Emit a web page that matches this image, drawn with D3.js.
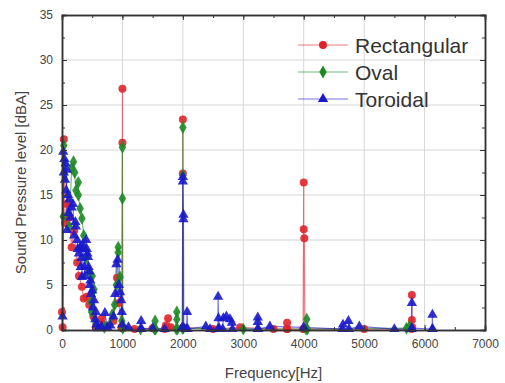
<!DOCTYPE html>
<html>
<head>
<meta charset="utf-8">
<script src="https://cdn.jsdelivr.net/npm/d3@7"></script>
<style>
  body { margin: 0; background: #fff; }
  svg { display: block; font-family: Arial, "Liberation Sans", sans-serif; }
</style>
</head>
<body>
<div id="chart"></div>
<script>
// series data: [frequency Hz, sound pressure dBA], in drawing order
const rectangular = [
  [0, 2.0], [10, 0.3], [30, 21.2], [50, 11.9], [80, 14.0], [120, 12.5], [160, 9.2],
  [200, 11.0], [250, 7.5], [280, 6.0], [330, 4.8], [360, 3.5], [410, 3.7], [450, 2.8],
  [520, 1.5], [560, 0.4], [660, 1.3], [680, 0.6], [720, 0.3], [850, 1.0], [910, 5.8],
  [940, 3.0], [980, 0.3], [995, 0.2], [1000, 26.8], [1000, 20.8], [1005, 0.2], [1200, 0.1],
  [1500, 0.2], [1700, 0.1], [1720, 0.5], [1755, 1.3], [1800, 0.3], [1995, 0.2], [2000, 23.4],
  [2000, 17.4], [2005, 0.3], [2500, 0.1], [2950, 0.3], [3500, 0.1], [3720, 0.1], [3725, 0.8],
  [3730, 0.1], [3990, 0.1], [4000, 16.4], [4000, 11.2], [4010, 10.2], [4020, 0.1], [5000, 0.1],
  [5785, 0.1], [5790, 3.9], [5790, 1.1], [5795, 0.3]
];
const oval = [
  [20, 12.6], [30, 20.5], [120, 11.5], [160, 18.0], [190, 18.7], [210, 17.5], [230, 15.5],
  [270, 16.4], [270, 15.0], [300, 13.5], [330, 12.4], [360, 10.5], [400, 8.0],
  [450, 6.5], [480, 3.1], [490, 2.0], [500, 6.0], [530, 4.5], [560, 0.8], [700, 0.3], [790, 0.6],
  [830, 1.7], [870, 2.8], [900, 5.0], [930, 9.2], [930, 8.6], [960, 5.9], [990, 1.0],
  [1000, 20.3], [1000, 14.6], [1005, 0.2], [1300, 0.1], [1530, 0.1], [1540, 1.0], [1550, 0.1],
  [1890, 0.1], [1900, 2.0], [1900, 1.2], [1910, 0.1], [1995, 0.2], [2000, 22.5], [2000, 17.2],
  [2005, 0.2], [3000, 0.1], [4040, 0.1], [4050, 1.2], [4060, 0.1], [5700, 0.2], [5750, 0.4]
];
const toroidal = [
  [10, 1.5], [20, 19.8], [30, 17.5], [40, 19.0], [50, 16.7], [60, 18.5], [70, 15.5],
  [80, 17.8], [80, 11.1], [100, 15.0], [110, 13.0], [120, 14.5], [140, 12.5], [160, 13.6],
  [180, 14.0], [200, 10.5], [220, 12.0], [230, 11.5], [250, 10.0], [260, 9.0], [280, 8.5],
  [300, 9.2], [310, 7.0], [320, 8.0], [330, 5.9], [340, 9.5], [350, 9.0], [370, 7.0],
  [380, 6.0], [400, 10.0], [410, 9.0], [420, 8.5], [430, 8.1], [440, 7.0], [450, 6.5],
  [460, 5.0], [470, 5.5], [480, 4.0], [500, 4.4], [510, 2.5], [530, 3.3], [550, 1.2],
  [560, 2.0], [570, 0.6], [600, 0.2], [650, 0.4], [710, 1.9], [750, 0.3], [800, 0.5],
  [850, 1.5], [880, 4.0], [900, 7.3], [920, 7.8], [940, 5.0], [960, 4.2], [980, 3.3],
  [990, 2.0], [1000, 0.6], [1100, 0.3], [1300, 0.1], [1310, 1.0], [1320, 0.1], [1500, 0.2],
  [1700, 0.1], [1990, 0.3], [2000, 17.0], [2000, 16.5], [2010, 12.8], [2010, 12.3],
  [2015, 0.2], [2060, 0.1], [2070, 2.0], [2080, 0.1], [2380, 0.4], [2450, 0.1], [2580, 0.1],
  [2583, 3.7], [2590, 1.3], [2600, 0.2], [2660, 0.1], [2670, 1.3], [2720, 1.5], [2780, 1.2],
  [2810, 0.8], [2820, 0.1], [3235, 0.1], [3240, 1.4], [3240, 0.9], [3250, 0.1], [3440, 0.4],
  [4000, 0.3], [4640, 0.1], [4650, 0.6], [4740, 1.0], [4750, 0.1], [4920, 0.4], [5500, 0.1],
  [5785, 0.1], [5790, 3.0], [5790, 0.2], [6125, 0.1], [6130, 1.7], [6135, 0.1]
];

const seriesNames = ["Rectangular", "Oval", "Toroidal"];
const seriesColors = ["#e0232b", "#1c8a24", "#1818cc"];
const seriesSymbols = [d3.symbolCircle, d3.symbolDiamond, d3.symbolTriangle];
const seriesData = [rectangular, oval, toroidal];

const xTicks = [0, 1000, 2000, 3000, 4000, 5000, 6000, 7000];
const yTicks = [0, 5, 10, 15, 20, 25, 30, 35];
const xTitle = "Frequency[Hz]";
const yTitle = "Sound Pressure level [dBA]";

const width = 505, height = 383;
const margin = { top: 15, right: 20, bottom: 53, left: 62 };
const iw = width - margin.left - margin.right;
const ih = height - margin.top - margin.bottom;

const svg = d3.select("#chart").append("svg")
  .attr("width", width)
  .attr("height", height);

const g = svg.append("g").attr("transform", `translate(${margin.left},${margin.top})`);

const x = d3.scaleLinear().domain([0, 7000]).range([0, iw]);
const y = d3.scaleLinear().domain([0, 35]).range([ih, 0]);

// grid
g.append("g").selectAll("line").data(xTicks.slice(1, -1)).enter().append("line")
  .attr("x1", d => x(d)).attr("x2", d => x(d)).attr("y1", 0).attr("y2", ih)
  .attr("stroke", "#d6d6d6").attr("stroke-width", 1);
g.append("g").selectAll("line").data(yTicks.slice(1, -1)).enter().append("line")
  .attr("y1", d => y(d)).attr("y2", d => y(d)).attr("x1", 0).attr("x2", iw)
  .attr("stroke", "#d6d6d6").attr("stroke-width", 1);

// series
const line = d3.line().x(d => x(d[0])).y(d => y(d[1]));
seriesData.forEach((data, i) => {
  g.append("path")
    .datum(data)
    .attr("d", line)
    .attr("fill", "none")
    .attr("stroke", seriesColors[i])
    .attr("stroke-opacity", 0.6)
    .attr("stroke-width", 1.2);
});
const symSizes = [50, 48, 46];
seriesData.forEach((data, i) => {
  const sym = d3.symbol().type(seriesSymbols[i]).size(symSizes[i]);
  g.append("g").selectAll("path").data(data).enter().append("path")
    .attr("d", sym)
    .attr("transform", d => `translate(${x(d[0])},${y(d[1])})`)
    .attr("fill", seriesColors[i])
    .attr("fill-opacity", 0.9);
});

// axes: ticks inward on all four sides
const axisColor = "#333";
const xMinor = d3.range(0, 7001, 500);
const yMinor = d3.range(0, 35.01, 2.5);

g.append("g").attr("transform", `translate(0,${ih})`)
  .call(d3.axisBottom(x).tickValues(xTicks).tickSize(-5).tickPadding(9).tickFormat(d3.format("d")));
g.append("g")
  .call(d3.axisTop(x).tickValues(xTicks).tickSize(-5).tickFormat(""));
g.append("g")
  .call(d3.axisLeft(y).tickValues(yTicks).tickSize(-5).tickPadding(9));
g.append("g").attr("transform", `translate(${iw},0)`)
  .call(d3.axisRight(y).tickValues(yTicks).tickSize(-5).tickFormat(""));

// minor ticks
g.append("g").call(d3.axisBottom(x).tickValues(xMinor).tickSize(-3).tickFormat(""))
  .attr("transform", `translate(0,${ih})`);
g.append("g").call(d3.axisTop(x).tickValues(xMinor).tickSize(-3).tickFormat(""));
g.append("g").call(d3.axisLeft(y).tickValues(yMinor).tickSize(-3).tickFormat(""));
g.append("g").call(d3.axisRight(y).tickValues(yMinor).tickSize(-3).tickFormat(""))
  .attr("transform", `translate(${iw},0)`);

g.selectAll(".domain").attr("stroke", axisColor).attr("stroke-width", 1.5);
g.selectAll(".tick line").attr("stroke", axisColor).attr("stroke-width", 1);
g.selectAll(".tick text").attr("fill", "#444").style("font-size", "12px");

// titles
svg.append("text")
  .attr("x", margin.left + iw / 2)
  .attr("y", 378)
  .attr("text-anchor", "middle")
  .attr("fill", "#444")
  .style("font-size", "15px")
  .text(xTitle);
svg.append("text")
  .attr("transform", `translate(26,${margin.top + ih / 2 + 10}) rotate(-90)`)
  .attr("text-anchor", "middle")
  .attr("fill", "#444")
  .style("font-size", "15px")
  .text(yTitle);

// legend
const legend = g.append("g").attr("transform", `translate(${298 - margin.left},${45 - margin.top})`);
seriesNames.forEach((name, i) => {
  const row = legend.append("g").attr("transform", `translate(0,${i * 27})`);
  row.append("line").attr("x1", 0).attr("x2", 50).attr("y1", 0).attr("y2", 0)
    .attr("stroke", seriesColors[i]).attr("stroke-opacity", 0.6).attr("stroke-width", 1.2);
  row.append("path")
    .attr("d", d3.symbol().type(seriesSymbols[i]).size(symSizes[i]))
    .attr("transform", "translate(25,0)")
    .attr("fill", seriesColors[i]);
  row.append("text")
    .attr("x", 57).attr("y", 8)
    .attr("fill", "#333")
    .style("font-size", "21px")
    .text(name);
});
</script>
</body>
</html>
